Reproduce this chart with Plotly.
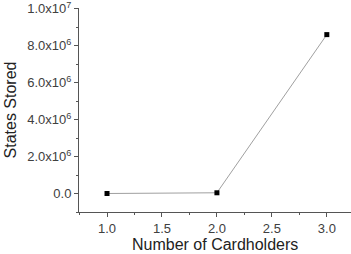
import plotly.graph_objects as go

cardholders = [1.0, 2.0, 3.0]
states_stored = [1000, 40000, 8.6e6]

y_tickvals = [0, 2e6, 4e6, 6e6, 8e6, 1e7]
y_ticktext = ["0.0", "2.0x10<sup>6</sup>", "4.0x10<sup>6</sup>", "6.0x10<sup>6</sup>",
              "8.0x10<sup>6</sup>", "1.0x10<sup>7</sup>"]
x_tickvals = [1.0, 1.5, 2.0, 2.5, 3.0]
x_ticktext = ["1.0", "1.5", "2.0", "2.5", "3.0"]

fig = go.Figure(go.Scatter(
    x=cardholders, y=states_stored, mode="lines+markers",
    line=dict(color="#a0a0a0", width=1),
    marker=dict(symbol="square", size=5, color="black"),
))

font = dict(family="Liberation Sans, Arial, sans-serif", size=13, color="#404040")
fig.update_layout(
    width=351, height=254,
    margin=dict(l=79, r=0, t=8, b=42),
    paper_bgcolor="white", plot_bgcolor="white",
    showlegend=False, font=font,
)
fig.update_xaxes(
    range=[0.745, 3.22], tickvals=x_tickvals, ticktext=x_ticktext, automargin=False,
    showline=True, linecolor="#555", linewidth=1, showgrid=False, zeroline=False,
    ticks="outside", ticklen=4, tickcolor="#555", ticklabeloverflow="allow",
    minor=dict(dtick=0.25, tick0=0, ticks="outside", ticklen=2, tickcolor="#555", showgrid=False),
)
fig.add_annotation(
    text="Number of Cardholders", xref="paper", yref="paper", x=0.5, y=-0.157,
    xanchor="center", yanchor="middle", showarrow=False,
    font=dict(size=16, color="#222"),
)
fig.update_yaxes(
    range=[-1e6, 1.004e7], tickvals=y_tickvals, ticktext=y_ticktext, automargin=False,
    showline=True, linecolor="#555", linewidth=1, showgrid=False, zeroline=False,
    ticks="outside", ticklen=4, tickcolor="#555", ticklabeloverflow="allow",
    minor=dict(dtick=1e6, tick0=0, ticks="outside", ticklen=2, tickcolor="#555", showgrid=False),
    title=dict(text="States Stored", font=dict(size=16, color="#222"), standoff=6),
)
fig.write_html("out.html")
